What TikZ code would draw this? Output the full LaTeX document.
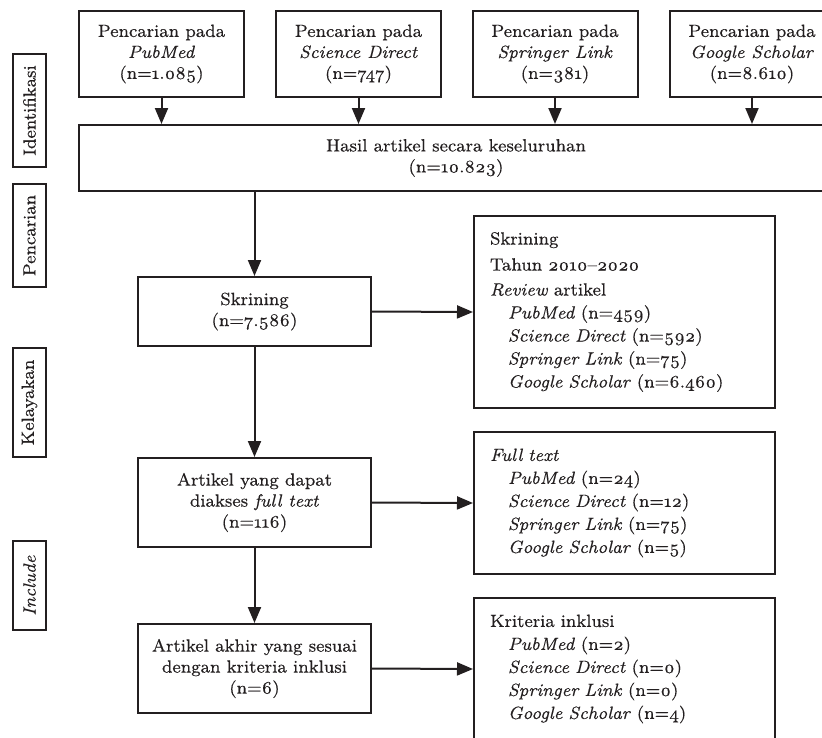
\documentclass[tikz,border=0pt]{standalone}
\usepackage{fontspec}
\setmainfont{lmroman8-regular.otf}[ItalicFont=lmroman8-italic.otf,BoldFont=lmroman8-bold.otf,Numbers=OldStyle,FakeBold=0.3]
\usetikzlibrary{arrows.meta}
\definecolor{linec}{HTML}{231F20}
\definecolor{textc}{HTML}{231F20}
\tikzset{
  box/.style={draw=linec, line width=2pt, fill=white, align=center, inner sep=0pt,
    text=textc, font=\fontsize{17.7}{21}\selectfont},
  topbox/.style={box, minimum width=165pt, minimum height=86pt},
  leftbox/.style={box, minimum width=233pt},
  listbox/.style={box, align=left, text width=269pt, inner xsep=16pt, minimum width=301pt,
    font=\fontsize{17.7}{23}\selectfont},
  sidebox/.style={box, rotate=90, minimum height=33pt},
  arr/.style={draw=linec, line width=2pt, -{Triangle[width=13pt,length=16pt]}},
}
\newcommand{\ind}{\hspace*{18pt}}
\begin{document}
\begin{tikzpicture}[x=1pt,y=-1pt]
\useasboundingbox (0,0) rectangle (822,737);
\clip (0,0) rectangle (822,737);
% top boxes
\node[topbox] (pm) at (161.5,54) {Pencarian pada\\\textit{PubMed}\\(n=1.085)};
\node[topbox] (sd) at (358.5,54) {Pencarian pada\\\textit{Science Direct}\\(n=747)};
\node[topbox] (sl) at (555,54) {Pencarian pada\\\textit{Springer Link}\\(n=381)};
\node[topbox] (gs) at (752,54) {Pencarian pada\\\textit{Google Scholar}\\(n=8.610)};
% combined
\node[box, minimum width=754pt, minimum height=66pt] (all) at (456,158) {Hasil artikel secara keseluruhan\\(n=10.823)};
% left column
\node[leftbox, minimum height=69pt] (skr) at (254.5,311.5) {Skrining\\(n=7.586)};
\node[leftbox, minimum height=89pt] (ft) at (254.5,502.5) {Artikel yang dapat\\diakses \textit{full text}\\(n=116)};
\node[leftbox, minimum height=89pt] (fin) at (254.5,668.5) {Artikel akhir yang sesuai\\dengan kriteria inklusi\\(n=6)};
% right column
\node[listbox, minimum height=192pt] (r1) at (624.5,312) {Skrining\\[3pt]Tahun 2010--2020\\[2pt]\textit{Review} artikel\\
\ind\textit{PubMed} (n=459)\\\ind\textit{Science Direct} (n=592)\\\ind\textit{Springer Link} (n=75)\\\ind\textit{Google Scholar} (n=6.460)};
\node[listbox, minimum height=142pt] (r2) at (624.5,503) {\textit{Full text}\\
\ind\textit{PubMed} (n=24)\\\ind\textit{Science Direct} (n=12)\\\ind\textit{Springer Link} (n=75)\\\ind\textit{Google Scholar} (n=5)};
\node[listbox, minimum height=142pt] (r3) at (624.5,669) {Kriteria inklusi\\
\ind\textit{PubMed} (n=2)\\\ind\textit{Science Direct} (n=0)\\\ind\textit{Springer Link} (n=0)\\\ind\textit{Google Scholar} (n=4)};
% side labels
\node[sidebox, minimum width=113pt] (s1) at (29.5,110.5) {Identifikasi};
\node[sidebox, minimum width=103pt] (s2) at (29.5,235.5) {Pencarian};
\node[sidebox, minimum width=109pt] (s3) at (29.5,402.5) {Kelayakan};
\node[sidebox, minimum width=89pt] (s4) at (29.5,585.5) {\textit{Include}};
% arrows
\foreach \n in {pm,sd,sl,gs} \draw[arr] (\n.south) -- (\n.south |- all.north);
\draw[arr] (skr.north |- all.south) -- (skr.north);
\draw[arr] (skr.south) -- (ft.north);
\draw[arr] (ft.south) -- (fin.north);
\draw[arr] (skr.east) -- (r1.west);
\draw[arr] (ft.east) -- (r2.west);
\draw[arr] (fin.east) -- (r3.west);
\end{tikzpicture}
\end{document}
